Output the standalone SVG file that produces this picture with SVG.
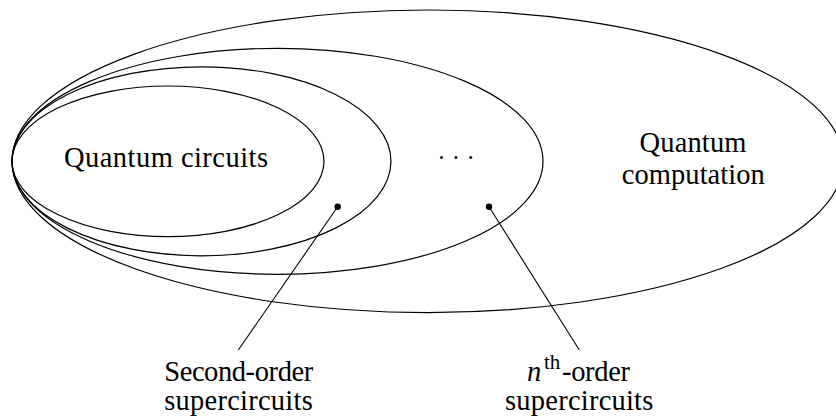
<svg xmlns="http://www.w3.org/2000/svg" width="836" height="416" viewBox="0 0 836 416">
<style>
  .set{fill:none;stroke:#000;stroke-width:1.2}
  .lbl{font-family:"Liberation Serif","Times New Roman",serif;font-size:28.5px;fill:#000}
  .conn{stroke:#000;stroke-width:1.1;fill:none}
  .dot{fill:#000;stroke:none}
</style>
<rect x="0" y="0" width="836" height="416" fill="#fff"/>
<g id="quantum-computation">
  <ellipse class="set" cx="427.7" cy="161.3" rx="415.7" ry="151.3"/>
  <text class="lbl" x="693" y="152.3" text-anchor="middle" textLength="107" lengthAdjust="spacing">Quantum</text>
  <text class="lbl" x="693.3" y="184.3" text-anchor="middle" textLength="143" lengthAdjust="spacing">computation</text>
</g>
<g id="nth-order-supercircuits">
  <ellipse class="set" cx="277.5" cy="161.3" rx="265.5" ry="113"/>
  <text class="lbl" x="456" y="165.5" text-anchor="middle" style="font-size:25px">· · ·</text>
</g>
<g id="second-order-supercircuits">
  <ellipse class="set" cx="201.5" cy="161.3" rx="189.5" ry="94.5"/>
</g>
<g id="quantum-circuits">
  <ellipse class="set" cx="168" cy="161.3" rx="156" ry="75.3"/>
  <text class="lbl" x="166" y="167.4" text-anchor="middle" textLength="204" lengthAdjust="spacing">Quantum circuits</text>
</g>
<g id="connectors">
  <line class="conn" x1="337.7" y1="206.7" x2="238.3" y2="350"/>
  <line class="conn" x1="489" y1="206.7" x2="579.3" y2="350"/>
  <circle class="dot" cx="337.7" cy="206.7" r="3.2"/>
  <circle class="dot" cx="489" cy="206.7" r="3.2"/>
</g>
<g id="label-second-order">
  <text class="lbl" x="238.7" y="380.7" text-anchor="middle" textLength="149" lengthAdjust="spacing">Second-order</text>
  <text class="lbl" x="238.5" y="409.5" text-anchor="middle" textLength="148.5" lengthAdjust="spacing">supercircuits</text>
</g>
<g id="label-nth-order">
  <text class="lbl" y="380.7"><tspan x="527" font-style="italic">n</tspan><tspan x="544" y="369.3" style="font-size:21px">th</tspan><tspan x="562" y="380.7" textLength="68" lengthAdjust="spacing">-order</tspan></text>
  <text class="lbl" x="579.2" y="409.5" text-anchor="middle" textLength="148.3" lengthAdjust="spacing">supercircuits</text>
</g>
</svg>
